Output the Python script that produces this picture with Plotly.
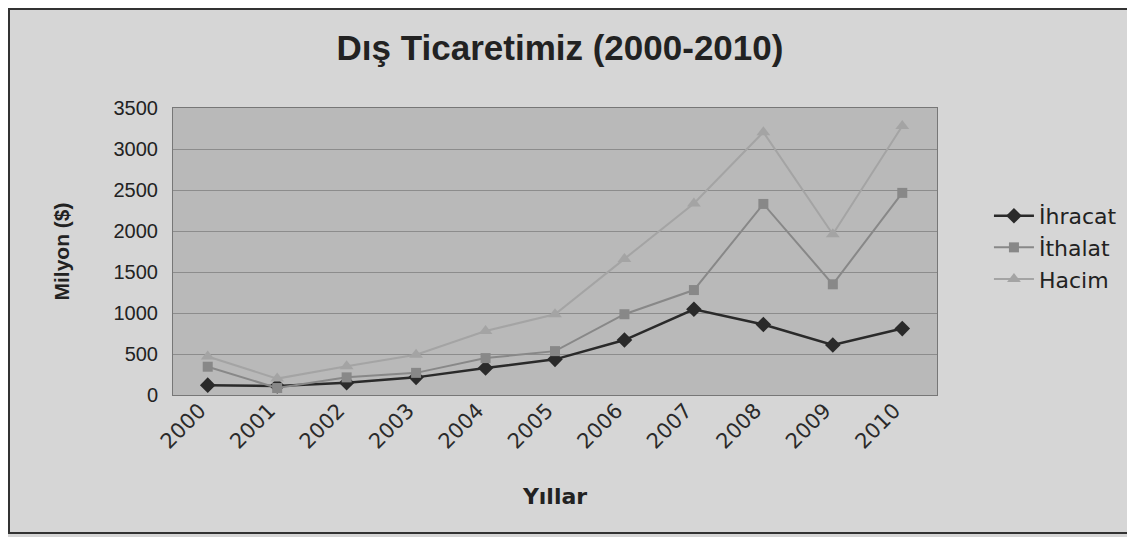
import plotly.graph_objects as go

years = ["2000", "2001", "2002", "2003", "2004", "2005", "2006", "2007", "2008", "2009", "2010"]
ihracat = [120, 110, 150, 215, 330, 435, 670, 1045, 860, 610, 810]
ithalat = [345, 85, 215, 270, 450, 535, 985, 1280, 2330, 1350, 2465]
hacim = [470, 200, 350, 490, 780, 985, 1660, 2335, 3205, 1960, 3280]

ARIAL = "Liberation Sans, Arial, sans-serif"
WIDE = "DejaVu Sans, sans-serif"

# page body has an 8px margin; figure is sized/offset to compensate
W, H = 1127, 529
L, T = 165, 100
PW, PH = 764, 287

fig = go.Figure()
fig.add_trace(go.Scatter(x=years, y=ihracat, name="İhracat", mode="lines+markers",
                         line=dict(color="#2a2a2a", width=2.5),
                         marker=dict(symbol="diamond", size=12, color="#2a2a2a")))
fig.add_trace(go.Scatter(x=years, y=ithalat, name="İthalat", mode="lines+markers",
                         line=dict(color="#888888", width=2),
                         marker=dict(symbol="square", size=10, color="#888888")))
fig.add_trace(go.Scatter(x=years, y=hacim, name="Hacim", mode="lines+markers",
                         line=dict(color="#a4a4a4", width=2),
                         marker=dict(symbol="triangle-up", size=12, color="#a4a4a4")))

fig.update_layout(
    width=W, height=H,
    margin=dict(l=L, r=W - L - PW, t=T, b=H - T - PH),
    paper_bgcolor="#d6d6d6",
    plot_bgcolor="#b9b9b9",
    font=dict(family=ARIAL, color="#222222", size=18),
    title=dict(text="<b>Dış Ticaretimiz (2000-2010)</b>", x=552 / W, xanchor="center",
               xref="container", y=1 - 40 / H, yanchor="middle",
               font=dict(size=35, family=ARIAL, color="#222222")),
    showlegend=True,
    legend=dict(x=1.068, y=0.697, xanchor="left", yanchor="top", bgcolor="rgba(0,0,0,0)",
                font=dict(size=22, family=WIDE), tracegroupgap=0, itemwidth=40,
                borderwidth=0),
    xaxis=dict(type="category", range=[-0.5, 10.5], tickangle=-45, showgrid=False,
               ticks="", tickfont=dict(size=21, family=WIDE, color="#2a2a2a"), ticklabelstandoff=-6,
               ticklabelshift=-8,
               showline=True, linecolor="#777777", linewidth=1, mirror=True,
               title=dict(text="<b>Yıllar</b>", font=dict(size=22, family=WIDE), standoff=36)),
    yaxis=dict(range=[0, 3500], dtick=500, showgrid=True, gridcolor="#8c8c8c", gridwidth=1.2,
               ticks="", tickfont=dict(size=20, family=ARIAL), zeroline=False, ticklabelstandoff=10,
               showline=True, linecolor="#777777", linewidth=1, mirror=True,
               title=dict(text="<b>Milyon ($)</b>", font=dict(size=21, family=ARIAL), standoff=38)),
    shapes=[dict(type="rect", xref="paper", yref="paper",
                 x0=(1 - L) / PW, x1=(1124 - L) / PW,
                 y0=(T + PH - 525) / PH, y1=(T + PH - 1) / PH,
                 line=dict(color="#333333", width=2), layer="below")],
)

fig.write_html("out.html")
